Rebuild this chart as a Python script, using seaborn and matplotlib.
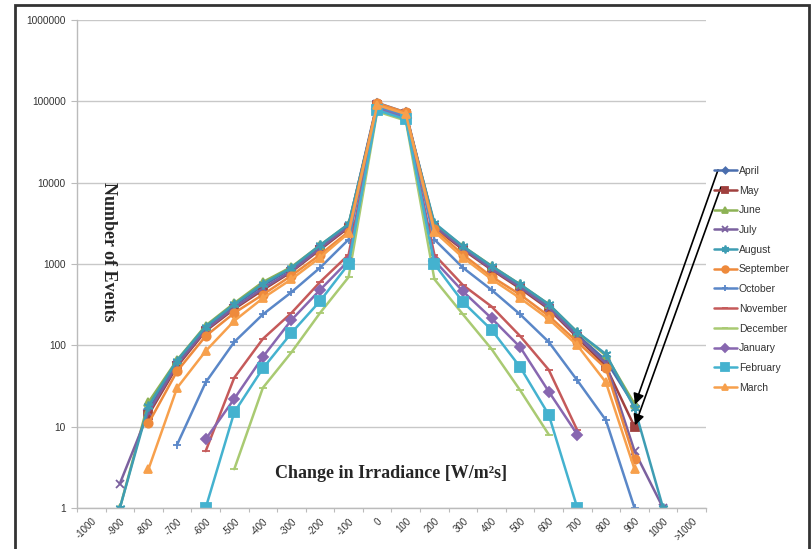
import numpy as np
import pandas as pd
import matplotlib
matplotlib.use("Agg")
import matplotlib.pyplot as plt
from matplotlib.patches import Rectangle
from matplotlib.ticker import FixedLocator, FuncFormatter, NullFormatter
import seaborn as sns

nan = np.nan

categories = ["-1000", "-900", "-800", "-700", "-600", "-500", "-400", "-300", "-200", "-100",
              "0", "100", "200", "300", "400", "500", "600", "700", "800", "900", "1000", ">1000"]

april     = [nan, nan, 16, 62, 165, 310, 540, 880, 1650, 3000, 96000, 73000, 3000, 1600, 900, 540, 300, 135, 65, 18, nan, nan]
may       = [nan, nan, 14, 55, 150, 280, 480, 800, 1500, 2800, 90000, 70000, 2800, 1500, 850, 500, 280, 125, 55, 10, nan, nan]
june      = [nan, 1, 20, 66, 175, 330, 600, 920, 1700, 3100, 85000, 65000, 3100, 1650, 950, 560, 320, 145, 75, 19, nan, nan]
july      = [nan, 2, 15, 58, 155, 290, 500, 820, 1550, 2900, 92000, 71000, 2900, 1550, 870, 520, 290, 130, 60, 5, 1, nan]
august    = [nan, 1, 18, 65, 170, 320, 570, 900, 1700, 3100, 88000, 68000, 3200, 1650, 940, 560, 320, 145, 78, 17, 1, nan]
september = [nan, nan, 11, 48, 130, 250, 420, 720, 1300, 2500, 95000, 73000, 2700, 1300, 700, 420, 230, 110, 52, 4, nan, nan]
october   = [nan, nan, nan, 6, 35, 110, 240, 450, 900, 2000, 85000, 65000, 2000, 900, 480, 240, 110, 37, 12, 1, nan, nan]
november  = [nan, nan, nan, nan, 5, 40, 120, 250, 600, 1300, 80000, 60000, 1300, 550, 300, 130, 50, 9, nan, nan, nan, nan]
december  = [nan, nan, nan, nan, nan, 3, 30, 82, 250, 690, 75000, 58000, 650, 240, 90, 28, 8, nan, nan, nan, nan, nan]
january   = [nan, nan, nan, nan, 7, 22, 72, 205, 480, 1100, 80000, 62000, 1100, 460, 215, 95, 27, 8, nan, nan, nan, nan]
february  = [nan, nan, nan, nan, 1, 15, 52, 142, 350, 1000, 78000, 60000, 1000, 340, 155, 54, 14, 1, nan, nan, nan, nan]
march     = [nan, nan, 3, 30, 85, 200, 380, 650, 1200, 2400, 90000, 70000, 2500, 1200, 650, 380, 210, 100, 35, 3, nan, nan]

months = ["April", "May", "June", "July", "August", "September",
          "October", "November", "December", "January", "February", "March"]
series = [april, may, june, july, august, september,
          october, november, december, january, february, march]

colors = ["#4A6EAE", "#A0403E", "#8DB255", "#7B619F", "#3E9DB3", "#EE8A3C",
          "#5A87C8", "#C55A5A", "#A9CA72", "#8867B0", "#44B2CF", "#F7A04C"]
markers = ["D", "s", "^", "x", (6, 2, 0), "o", "+", "_", "_", "D", "s", "^"]
msizes = [4, 6, 6, 6, 7, 6, 6, 6, 6, 5, 7, 6]

rows = []
for m, vals in zip(months, series):
    for i, v in enumerate(vals):
        rows.append({"month": m, "pos": i, "events": v})
df = pd.DataFrame(rows).dropna()

sns.set_theme(style="white")
plt.rcParams["font.family"] = ["Liberation Sans", "DejaVu Sans"]

W, H = 812, 549
fig = plt.figure(figsize=(W / 100, H / 100), dpi=100)
ax = fig.add_axes([77 / W, 1 - 508 / H, (706 - 77) / W, (508 - 20) / H])

for m, c, mk, ms in zip(months, colors, markers, msizes):
    sub = df[df["month"] == m]
    sns.lineplot(data=sub, x="pos", y="events", ax=ax, color=c, marker=mk,
                 markersize=ms, markeredgecolor=c, markerfacecolor=c,
                 markeredgewidth=1.3, linewidth=1.8, estimator=None,
                 label=m)

ax.set_yscale("log")
ax.set_ylim(1, 1e6)
ax.set_xlim(-0.5, len(categories) - 0.5)

ax.yaxis.set_major_locator(FixedLocator([10 ** k for k in range(7)]))
ax.yaxis.set_major_formatter(FuncFormatter(lambda v, p: "%d" % round(v)))
ax.yaxis.set_minor_formatter(NullFormatter())
ax.yaxis.set_minor_locator(FixedLocator([]))
ax.grid(axis="y", color="#C8C8C8", linewidth=1)
ax.grid(axis="x", visible=False)

ax.set_xticks(range(len(categories)))
ax.set_xticklabels(categories, rotation=45, ha="right", rotation_mode="anchor")
ax.xaxis.set_minor_locator(FixedLocator(np.arange(-0.5, len(categories), 1.0)))
ax.tick_params(axis="x", which="major", length=0, pad=6, labelsize=7, colors="#333333")
ax.tick_params(axis="x", which="minor", length=3, width=0.8, color="#BBBBBB", direction="out", bottom=True)
ax.tick_params(axis="y", which="major", length=4, width=0.8, color="#BBBBBB", pad=4,
               labelsize=7.3, labelcolor="#333333", left=True)

for s in ["top", "right"]:
    ax.spines[s].set_visible(False)
for s in ["left", "bottom"]:
    ax.spines[s].set_color("#BBBBBB")
    ax.spines[s].set_linewidth(1)

ax.set_xlabel("")
ax.set_ylabel("")

fig.text(108 / W, 1 - 252 / H, "Number of Events", rotation=270, ha="center", va="center",
         fontsize=13, fontweight="bold", family=["Liberation Serif", "DejaVu Serif"])
ax.text(0.50, 0.07, "Change in Irradiance [W/m²s]", transform=ax.transAxes,
        ha="center", va="center", fontsize=13, fontweight="bold",
        family=["Liberation Serif", "DejaVu Serif"])

leg = ax.legend(loc="upper left", bbox_to_anchor=(714 / W, 1 - 166 / H),
                bbox_transform=fig.transFigure, frameon=False, fontsize=7.5,
                labelspacing=0.93, handlelength=2.2, handletextpad=0.2,
                borderpad=0, borderaxespad=0, markerscale=0.8)
for t in leg.get_texts():
    t.set_color("#333333")

idx900 = categories.index("900")
ax.annotate("", xy=(idx900, april[idx900]), xycoords="data",
            xytext=(718, H - 170), textcoords="figure pixels",
            arrowprops=dict(arrowstyle="-|>", color="black", lw=1.2,
                            mutation_scale=16, shrinkA=0, shrinkB=1))
ax.annotate("", xy=(idx900, may[idx900]), xycoords="data",
            xytext=(721, H - 187), textcoords="figure pixels",
            arrowprops=dict(arrowstyle="-|>", color="black", lw=1.2,
                            mutation_scale=16, shrinkA=0, shrinkB=1))

fig.patches.append(Rectangle((15 / W, -0.02), (809 - 15) / W, 1 - 5 / H + 0.02,
                             transform=fig.transFigure, fill=False,
                             edgecolor="#333333", linewidth=2))

fig.savefig("out.png", dpi=100)
